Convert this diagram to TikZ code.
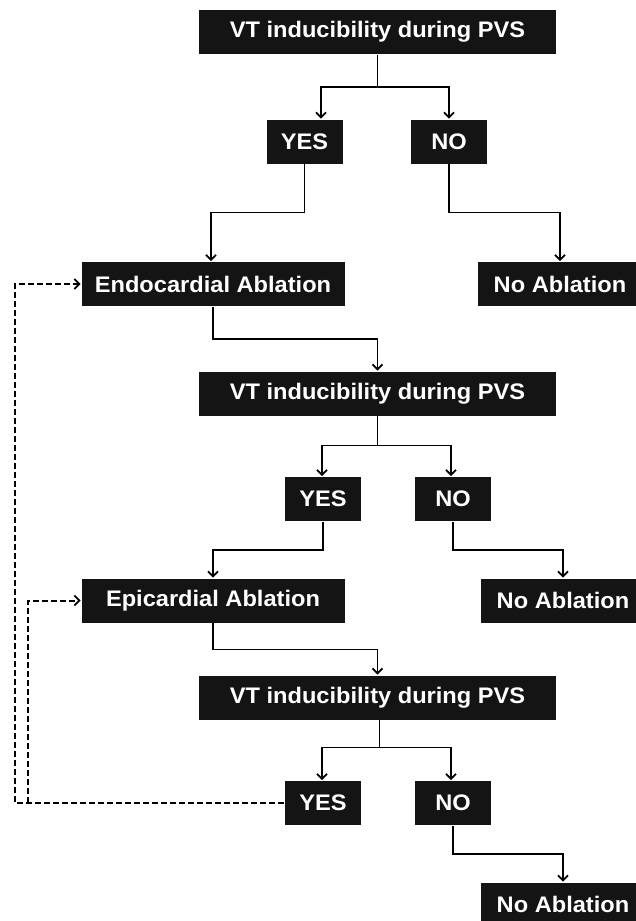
\documentclass[tikz,border=0pt]{standalone}
\usepackage{fontspec}
\setmainfont{Liberation Sans}[FakeStretch=1.05]
\usetikzlibrary{positioning,arrows.meta}
\definecolor{boxfill}{HTML}{141414}

\begin{document}
\begin{tikzpicture}[x=1pt,y=1pt,on grid,line width=1.8pt,
 >={Straight Barb[length=5pt,width=10pt,line width=1.8pt]},
 box/.style={fill=boxfill,text=white,inner sep=0pt,minimum height=44pt,
 font=\bfseries\fontsize{22.5}{26}\selectfont},
 vtbox/.style={box,minimum width=357pt},
 ansbox/.style={box,minimum width=76pt},
 ablbox/.style={box,minimum width=263pt},
 nobox/.style={box,minimum width=164pt},
 link/.style={->},
 loopline/.style={->,line width=2pt,dash pattern=on 6pt off 3pt}]
 \useasboundingbox (0,0) rectangle (635,-921);

 \node[vtbox] (vt_1) at (377.5,-32) {VT inducibility during PVS};
 \node[ansbox] (yes_1) [below left=109.5pt and 73pt of vt_1] {YES};
 \node[ansbox] (no_1) [right=144.5pt of yes_1] {NO};
 \node[ablbox] (endo) [below left=142.5pt and 91.5pt of yes_1] {Endocardial Ablation};
 \node[nobox] (noabl_1) [below right=142.5pt and 111pt of no_1] {No Ablation};

 \node[vtbox] (vt_2) [below right=109.5pt and 164.5pt of endo] {VT inducibility during PVS};
 \node[ansbox] (yes_2) [below left=105.5pt and 54.5pt of vt_2] {YES};
 \node[ansbox] (no_2) [right=130pt of yes_2] {NO};
 \node[ablbox] (epi) [below left=101.5pt and 110pt of yes_2] {Epicardial Ablation};
 \node[nobox] (noabl_2) [below right=101.5pt and 110pt of no_2] {No Ablation};

 \node[vtbox] (vt_3) [below right=97pt and 164.5pt of epi] {VT inducibility during PVS};
 \node[ansbox] (yes_3) [below left=105.5pt and 54.5pt of vt_3] {YES};
 \node[ansbox] (no_3) [right=130pt of yes_3] {NO};
 \node[nobox] (noabl_3) [below right=101.5pt and 110pt of no_3] {No Ablation};

 \coordinate (back_1) at (15,-803);
 \coordinate (back_2) at (28,-803);

 % first test
 \draw[link] (vt_1.south) -- ++(0,-32) -| ([xshift=16.5pt]yes_1.north);
 \draw[link] (vt_1.south) -- ++(0,-32) -| (no_1.north);
 \draw[link] (yes_1.south) -- ++(0,-48) -| ([xshift=-2pt]endo.north);
 \draw[link] (no_1.south) -- ++(0,-48) -| (noabl_1.north);
 \draw[link] (endo.south) -- ++(0,-32) -| (vt_2.north);

 % second test
 \draw[link] (vt_2.south) -- ++(0,-29) -| ([xshift=-1pt]yes_2.north);
 \draw[link] (vt_2.south) -- ++(0,-29) -| ([xshift=-2pt]no_2.north);
 \draw[link] (yes_2.south) -- ++(0,-28) -| (epi.north);
 \draw[link] (no_2.south) -- ++(0,-28) -| (noabl_2.north);
 \draw[link] (epi.south) -- ++(0,-26) -| (vt_3.north);

 % third test
 \draw[link] ([xshift=2pt]vt_3.south) -- ++(0,-27) -| ([xshift=-1pt]yes_3.north);
 \draw[link] ([xshift=2pt]vt_3.south) -- ++(0,-27) -| ([xshift=-2pt]no_3.north);
 \draw[link] (no_3.south) -- ++(0,-28) -| (noabl_3.north);

 % repeat loops
 \draw[loopline] (yes_3.west) -- (back_1) |- (endo.west);
 \draw[loopline] (back_2) |- (epi.west);
\end{tikzpicture}
\end{document}
